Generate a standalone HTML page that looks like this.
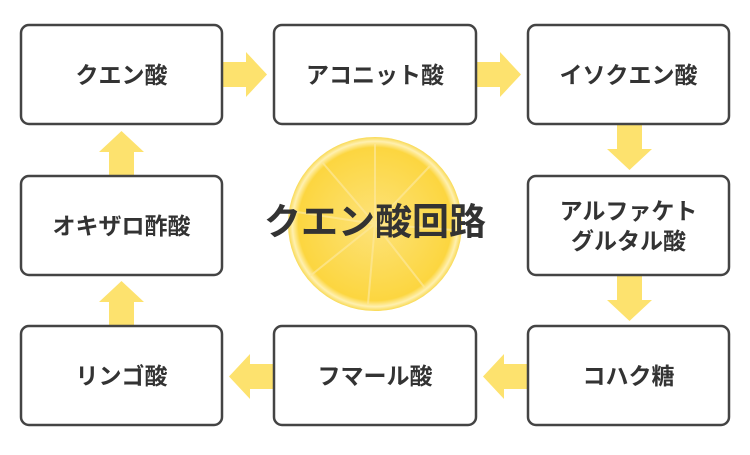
<!DOCTYPE html>
<html><head><meta charset="utf-8"><style>
body{margin:0;width:750px;height:450px;background:#fff;overflow:hidden}
svg text{font-family:"Liberation Sans","Noto Sans CJK JP",sans-serif;font-weight:bold;fill:#333;text-anchor:middle;dominant-baseline:central}
</style></head><body>
<svg width="750" height="450" viewBox="0 0 750 450">
<defs>
<radialGradient id="lg" cx="50%" cy="50%" r="50%">
<stop offset="0" stop-color="#fde27a"/><stop offset="0.88" stop-color="#fcd640"/><stop offset="0.95" stop-color="#fff0b0"/><stop offset="1" stop-color="#f9da55"/>
</radialGradient>
</defs>
<circle cx="375" cy="224" r="87" fill="url(#lg)"/>
<g stroke="#fde89a" stroke-width="2" opacity="0.7">
<line x1="375" y1="224" x2="375" y2="144"/><line x1="375" y1="224" x2="430" y2="166"/><line x1="375" y1="224" x2="453" y2="230"/><line x1="375" y1="224" x2="425" y2="288"/><line x1="375" y1="224" x2="368" y2="304"/><line x1="375" y1="224" x2="310" y2="276"/><line x1="375" y1="224" x2="297" y2="212"/><line x1="375" y1="224" x2="322" y2="162"/>
</g>
<g fill="#fde26e">
<polygon points="222,62 246,62 246,52 267,74.5 246,97 246,87 222,87"/>
<polygon points="476,62 500,62 500,52 521,74.5 500,97 500,87 476,87"/>
<polygon points="617,125 642,125 642,149 652,149 629.5,170 607,149 617,149"/>
<polygon points="617,276 642,276 642,300 652,300 629.5,321 607,300 617,300"/>
<polygon points="528,364 504,364 504,354 483,376.5 504,399 504,389 528,389"/>
<polygon points="274,364 250,364 250,354 229,376.5 250,399 250,389 274,389"/>
<polygon points="109,326 134,326 134,302 144,302 121.5,281 99,302 109,302"/>
<polygon points="109,176 134,176 134,152 144,152 121.5,131 99,152 109,152"/>
</g>
<g fill="#fff" stroke="#444" stroke-width="2.5">
<rect x="21" y="25" width="201" height="99" rx="8"/>
<rect x="274" y="25" width="202" height="99" rx="8"/>
<rect x="528" y="25" width="201" height="99" rx="8"/>
<rect x="21" y="176" width="201" height="99" rx="8"/>
<rect x="528" y="176" width="201" height="99" rx="8"/>
<rect x="21" y="326" width="201" height="99" rx="8"/>
<rect x="274" y="326" width="202" height="99" rx="8"/>
<rect x="528" y="326" width="201" height="99" rx="8"/>
</g>
<g font-size="23">
<text x="121.5" y="75">クエン酸</text>
<text x="375" y="75">アコニット酸</text>
<text x="628.5" y="75">イソクエン酸</text>
<text x="121.5" y="226">オキザロ酢酸</text>
<text x="628.5" y="211">アルファケト</text>
<text x="628.5" y="241">グルタル酸</text>
<text x="121.5" y="376">リンゴ酸</text>
<text x="375" y="376">フマール酸</text>
<text x="628.5" y="376">コハク糖</text>
</g>
<text x="375" y="222" font-size="37">クエン酸回路</text>
</svg>
</body></html>
